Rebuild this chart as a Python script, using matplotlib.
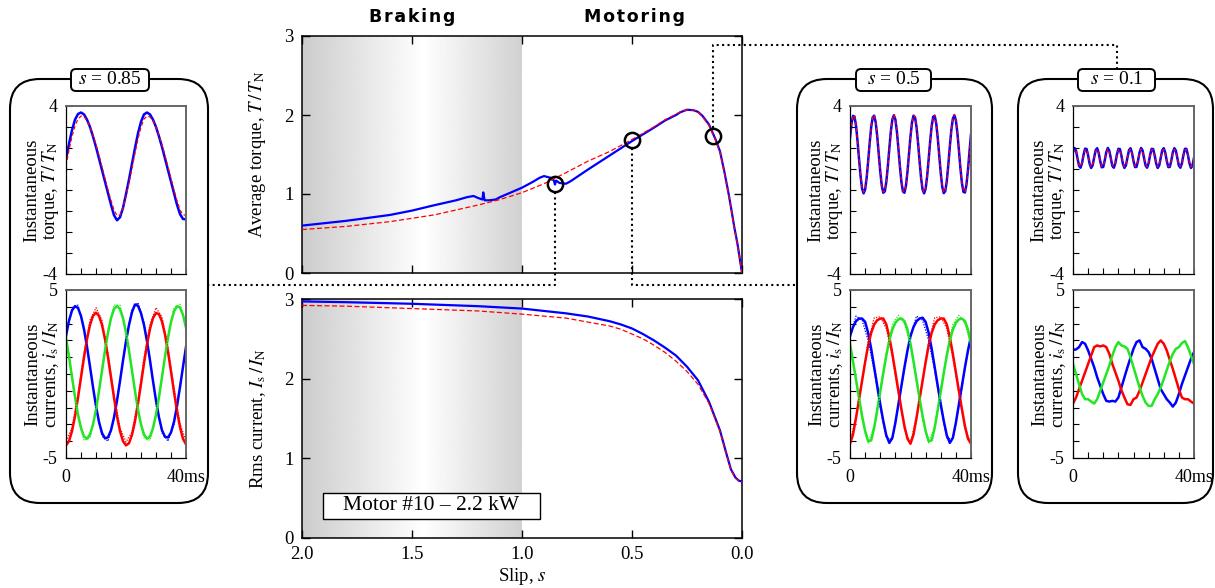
import numpy as np
import matplotlib
matplotlib.use('Agg')
import matplotlib.pyplot as plt
from matplotlib.patches import FancyBboxPatch, Rectangle
from matplotlib.lines import Line2D

plt.rcParams['font.family'] = ['Liberation Serif', 'DejaVu Serif']
plt.rcParams['mathtext.fontset'] = 'stix'
plt.rcParams['font.size'] = 13

# ---- average torque vs slip (blue = measured, red dashed = model) ----
TQ_S_MEAS = [2.0, 1.8, 1.6, 1.5, 1.4, 1.3, 1.25, 1.22, 1.2, 1.18, 1.176, 1.17, 1.15, 1.12, 1.1,
             1.0, 0.95, 0.92, 0.9, 0.87, 0.855, 0.85, 0.845, 0.83, 0.8, 0.78, 0.7, 0.6, 0.5, 0.4,
             0.35, 0.3, 0.28, 0.25, 0.22, 0.2, 0.18, 0.15, 0.12, 0.1, 0.08, 0.06, 0.05, 0.035, 0.02,
             0.01, 0.0]
TQ_MEAS = [0.60, 0.66, 0.735, 0.79, 0.857, 0.92, 0.96, 0.975, 0.95, 0.93, 1.02, 0.92, 0.92, 0.93, 0.96,
           1.08, 1.155, 1.205, 1.227, 1.205, 1.17, 1.12, 1.17, 1.14, 1.13, 1.16, 1.31, 1.49, 1.67, 1.84,
           1.93, 2.0, 2.035, 2.067, 2.06, 2.04, 1.99, 1.88, 1.69, 1.54, 1.28, 0.99, 0.83, 0.58, 0.36,
           0.18, 0.0]
TQ_S_SIM = [2.0, 1.8, 1.6, 1.4, 1.2, 1.1, 1.0, 0.9, 0.8, 0.7, 0.6, 0.5, 0.4, 0.35, 0.3, 0.28, 0.25,
            0.22, 0.2, 0.18, 0.15, 0.12, 0.1, 0.08, 0.06, 0.05, 0.035, 0.02, 0.01, 0.0]
TQ_SIM = [0.55, 0.59, 0.65, 0.735, 0.86, 0.93, 1.017, 1.13, 1.27, 1.416, 1.54, 1.69, 1.85, 1.94, 2.01,
          2.04, 2.067, 2.06, 2.04, 1.98, 1.87, 1.68, 1.53, 1.27, 0.98, 0.82, 0.57, 0.35, 0.17, 0.0]

# ---- rms current vs slip ----
IS_S_MEAS = [2.0, 1.8, 1.5, 1.2, 1.0, 0.9, 0.8, 0.7, 0.6, 0.55, 0.5, 0.45, 0.4, 0.35, 0.3, 0.25, 0.2,
             0.15, 0.1, 0.07, 0.05, 0.03, 0.015, 0.0]
IS_MEAS = [2.97, 2.96, 2.94, 2.91, 2.88, 2.85, 2.82, 2.78, 2.72, 2.68, 2.63, 2.56, 2.48, 2.39, 2.29,
           2.15, 1.98, 1.71, 1.35, 1.05, 0.86, 0.76, 0.72, 0.71]
IS_S_SIM = [2.0, 1.8, 1.5, 1.2, 1.0, 0.8, 0.6, 0.55, 0.5, 0.45, 0.4, 0.35, 0.3, 0.25, 0.2, 0.15, 0.1,
            0.07, 0.05, 0.03, 0.015, 0.0]
IS_SIM = [2.92, 2.91, 2.88, 2.85, 2.81, 2.76, 2.66, 2.62, 2.56, 2.5, 2.42, 2.33, 2.22, 2.09, 1.93,
          1.69, 1.34, 1.04, 0.85, 0.75, 0.72, 0.71]

# selected operating points (circles)
SEL_S = [0.85, 0.5, 0.13]
SEL_T = [1.13, 1.68, 1.73]

# ---- instantaneous torque, 0..40 ms ----
TQ085_MEAS = [1.46, 2.2, 2.85, 3.35, 3.62, 3.69, 3.6, 3.35, 3.0, 2.55, 2.05, 1.5, 0.95, 0.4, -0.15,
              -0.7, -1.2, -1.44, -1.3, -0.85, -0.2, 0.5, 1.25, 2.0, 2.7, 3.25, 3.6, 3.69, 3.6, 3.35,
              3.0, 2.55, 2.05, 1.5, 0.95, 0.4, -0.15, -0.7, -1.15, -1.38, -1.4]
TQ085_SIM = [1.14, 1.9, 2.55, 3.05, 3.38, 3.52, 3.5, 3.3, 3.0, 2.6, 2.15, 1.65, 1.1, 0.55, 0.0,
             -0.5, -0.95, -1.22, -1.2, -0.85, -0.3, 0.35, 1.05, 1.75, 2.45, 3.0, 3.38, 3.52, 3.48, 3.3,
             3.0, 2.6, 2.15, 1.65, 1.1, 0.55, 0.0, -0.5, -0.95, -1.18, -1.2]
TQ05_MEAS = [2.49, 3.17, 3.53, 3.49, 3.05, 2.32, 1.46, 0.65, 0.06, -0.16,
             0.02, 0.57, 1.37, 2.24, 2.99, 3.46, 3.54, 3.22, 2.56, 1.72,
             0.88, 0.21, -0.13, -0.07, 0.38, 1.12, 1.98, 2.79, 3.36, 3.56,
             3.36, 2.79, 1.98, 1.12, 0.38, -0.07, -0.13, 0.21, 0.87, 1.72,
             2.56, 3.22, 3.54, 3.46, 2.99, 2.24, 1.37, 0.57, 0.02, -0.16,
             0.06, 0.65, 1.46, 2.32, 3.05, 3.49, 3.53, 3.17, 2.49, 1.64,
             0.80, 0.15, -0.15, -0.05, 0.43, 1.20, 2.07, 2.86, 3.39, 3.56,
             3.32, 2.72, 1.90, 1.04, 0.33, -0.09, -0.12, 0.26, 0.96, 1.82, 2.64]
TQ05_SIM = [2.45, 3.15, 3.55, 3.55, 3.1, 2.35, 1.47, 0.68, 0.1, -0.1,
            0.05, 0.58, 1.36, 2.22, 2.98, 3.47, 3.58, 3.27, 2.6, 1.75,
            0.9, 0.24, -0.09, -0.04, 0.38, 1.1, 1.95, 2.76, 3.36, 3.6,
            3.4, 2.83, 2.02, 1.15, 0.42, -0.04, -0.1, 0.22, 0.86, 1.7,
            2.53, 3.2, 3.56, 3.5, 3.03, 2.28, 1.4, 0.6, 0.06, -0.12,
            0.07, 0.64, 1.44, 2.3, 3.04, 3.5, 3.57, 3.2, 2.52, 1.66,
            0.83, 0.18, -0.11, -0.03, 0.43, 1.18, 2.05, 2.84, 3.39, 3.6,
            3.37, 2.76, 1.93, 1.07, 0.36, -0.06, -0.09, 0.27, 0.95, 1.8, 2.6]
TQ01_MEAS = [1.80, 2.00, 1.87, 1.50, 1.15, 1.06, 1.29, 1.68, 1.97, 1.95,
             1.64, 1.25, 1.05, 1.18, 1.55, 1.90, 1.99, 1.76, 1.37, 1.08,
             1.10, 1.41, 1.80, 2.00, 1.87, 1.51, 1.15, 1.06, 1.28, 1.68,
             1.96, 1.95, 1.64, 1.25, 1.05, 1.18, 1.54, 1.89, 1.99, 1.77,
             1.38, 1.09, 1.10, 1.40, 1.79, 2.00, 1.88, 1.51, 1.16, 1.06,
             1.28, 1.67, 1.96, 1.95, 1.65, 1.26, 1.05, 1.17, 1.53, 1.89,
             1.99, 1.78, 1.38, 1.09, 1.10, 1.40, 1.79, 1.99, 1.88, 1.52,
             1.16, 1.06, 1.27, 1.66, 1.96, 1.96, 1.66, 1.27, 1.05, 1.17, 1.53]
TQ01_SIM = [1.77, 1.95, 1.84, 1.50, 1.19, 1.11, 1.31, 1.66, 1.93, 1.91,
            1.63, 1.28, 1.10, 1.21, 1.55, 1.86, 1.94, 1.74, 1.39, 1.12,
            1.14, 1.42, 1.77, 1.95, 1.84, 1.51, 1.19, 1.11, 1.30, 1.66,
            1.92, 1.91, 1.63, 1.28, 1.10, 1.21, 1.54, 1.85, 1.94, 1.75,
            1.39, 1.13, 1.14, 1.41, 1.76, 1.95, 1.85, 1.51, 1.19, 1.11,
            1.30, 1.65, 1.92, 1.91, 1.64, 1.29, 1.10, 1.20, 1.53, 1.85,
            1.94, 1.75, 1.39, 1.13, 1.14, 1.41, 1.76, 1.94, 1.85, 1.52,
            1.19, 1.11, 1.30, 1.65, 1.92, 1.92, 1.65, 1.30, 1.10, 1.20, 1.53]

# ---- instantaneous phase currents (a=blue, b=red, c=green), 1 ms steps ----
IA085 = [2.27, 3.17, 3.78, 4.04, 3.93, 3.45, 2.66, 1.62, 0.44, -0.78, -1.91, -2.85, -3.51, -3.83,
         -3.77, -3.35, -2.59, -1.59, -0.42, 0.80, 1.95, 2.92, 3.68, 4.14, 4.06, 3.62, 2.92, 1.95, 0.81,
         -0.42, -1.58, -2.59, -3.35, -3.74, -3.78, -3.48, -2.85, -1.91, -0.78, 0.43, 1.61]
IB085 = [-4.25, -4.0, -3.40, -2.52, -1.41, -0.21, 0.99, 2.07, 2.92, 3.46, 3.65, 3.46, 2.92, 2.07,
         0.99, -0.21, -1.41, -2.52, -3.40, -4.0, -4.25, -4.12, -3.62, -2.81, -1.77, -0.58, 0.64, 1.76,
         2.69, 3.33, 3.63, 3.56, 3.12, 2.35, 1.32, 0.15, -1.07, -2.20, -3.16, -3.86, -4.19]
IC085 = [2.16, 1.04, -0.18, -1.37, -2.41, -3.22, -3.72, -3.85, -3.60, -3.00, -2.12, -1.01, 0.19,
         1.39, 2.47, 3.32, 3.86, 4.05, 3.86, 3.32, 2.47, 1.39, 0.19, -1.01, -2.12, -3.00, -3.60, -3.85,
         -3.72, -3.22, -2.41, -1.37, -0.18, 1.04, 2.16, 3.09, 3.73, 4.03, 3.96, 3.52, 2.75]
IA05 = [2.25, 2.8, 3.15, 3.3, 3.3, 3.1, 2.45, 1.5, 0.4, -0.7, -1.8, -2.8, -3.65, -4.1, -3.8, -2.9,
        -1.8, -0.7, 0.4, 1.4, 2.25, 2.8, 3.15, 3.3, 3.35, 3.1, 2.45, 1.5, 0.4, -0.7, -1.8, -2.8, -3.65,
        -4.1, -3.8, -2.9, -1.8, -0.7, 0.4, 1.4, 2.25]
IB05 = [-4.15, -3.6, -2.6, -1.5, -0.4, 0.7, 1.7, 2.45, 2.95, 3.2, 3.3, 3.3, 2.95, 2.2, 1.2, 0.1,
        -1.0, -2.1, -3.1, -3.85, -4.15, -3.6, -2.6, -1.5, -0.4, 0.7, 1.7, 2.45, 2.95, 3.2, 3.3, 3.3,
        2.95, 2.2, 1.2, 0.1, -1.0, -2.1, -3.1, -3.85, -4.15]
IC05 = [1.8, 0.75, -0.35, -1.45, -2.5, -3.4, -4.0, -3.95, -3.2, -2.15, -1.05, 0.05, 1.1, 2.0, 2.65,
        3.05, 3.25, 3.3, 3.15, 2.65, 1.8, 0.75, -0.35, -1.45, -2.5, -3.4, -4.0, -3.95, -3.2, -2.15,
        -1.05, 0.05, 1.1, 2.0, 2.65, 3.05, 3.25, 3.3, 3.15, 2.65, 1.8]
IA01 = [1.44, 1.46, 1.6, 1.9, 1.8, 1.4, 0.9, 0.4, -0.2, -0.7, -1.2, -1.6, -1.64, -1.6, -1.64, -1.4,
        -0.8, -0.2, 0.4, 0.96, 1.5, 1.9, 2.0, 1.6, 1.5, 1.3, 0.9, 0.3, -0.3, -0.9, -1.2, -1.5, -1.7,
        -1.94, -1.7, -1.2, -0.6, -0.1, 0.4, 0.9, 1.3]
IB01 = [-1.76, -1.4, -0.9, -0.4, 0.1, 0.6, 1.1, 1.6, 1.7, 1.64, 1.7, 1.6, 1.2, 0.6, 0.1, -0.4,
        -0.96, -1.4, -1.8, -1.84, -1.5, -1.4, -1.0, -0.5, 0.0, 0.5, 1.0, 1.4, 1.8, 2.0, 1.8, 1.4, 0.84,
        0.3, -0.3, -0.9, -1.4, -1.5, -1.5, -1.64, -1.76]
IC01 = [0.6, 0.0, -0.6, -1.2, -1.5, -1.5, -1.64, -1.76, -1.5, -1.0, -0.5, 0.0, 0.5, 1.1, 1.6, 1.9,
        1.7, 1.64, 1.5, 1.0, 0.4, -0.2, -0.8, -1.3, -1.7, -1.9, -1.9, -1.5, -1.2, -0.8, -0.3, 0.24,
        0.76, 1.2, 1.5, 1.6, 1.84, 1.96, 1.6, 1.1, 0.6]
# model currents (dotted), 2 ms steps
IA085_SIM = [2.35, 3.95, 4.1, 2.75, 0.45, -2.0, -3.7, -4.0, -2.7, -0.45, 2.0, 3.85, 4.25, 3.05, 0.85,
             -1.65, -3.5, -4.0, -3.0, -0.8, 1.65]
IB085_SIM = [-4.0, -3.2, -1.2, 1.25, 3.2, 3.95, 3.2, 1.25, -1.2, -3.2, -4.05, -3.45, -1.55, 0.95,
             2.95, 3.95, 3.4, 1.6, -0.8, -2.95, -4.0]
IC085_SIM = [2.25, -0.2, -2.55, -3.95, -3.8, -2.25, 0.2, 2.6, 4.1, 4.1, 2.6, 0.2, -2.25, -3.8, -3.95,
             -2.55, -0.2, 2.25, 3.95, 4.15, 2.9]
IA05_SIM = [2.3, 3.45, 3.2, 2.0, 0.2, -2.0, -3.8, -3.9, -1.9, 0.3, 2.3, 3.45, 3.2, 2.0, 0.2, -2.0,
            -3.8, -3.9, -1.9, 0.3, 2.3]
IB05_SIM = [-4.1, -2.5, -0.3, 1.9, 3.35, 3.4, 2.7, 1.0, -1.2, -3.3, -4.1, -2.5, -0.3, 1.9, 3.35, 3.4,
            2.7, 1.0, -1.2, -3.3, -4.1]
IC05_SIM = [1.7, -0.5, -2.7, -4.1, -3.1, -0.9, 1.3, 2.95, 3.5, 3.0, 1.7, -0.5, -2.7, -4.1, -3.1, -0.9,
            1.3, 2.95, 3.5, 3.0, 1.7]

BLUE, RED, GREEN = '#0000ff', '#ff0000', '#22e622'
W, H = 1215, 588
fig = plt.figure(figsize=(W / 100, H / 100), dpi=100)


def rect(x0, y0, x1, y1):
    # pixel box (origin top-left) -> figure fraction
    return [x0 / W, 1 - y1 / H, (x1 - x0) / W, (y1 - y0) / H]


def tgrid(v):
    return np.linspace(0, 40, len(v))


# ================= main axes =================
axT = fig.add_axes(rect(302, 36, 742, 273))
axI = fig.add_axes(rect(302, 299, 742, 538))
sg = np.linspace(1.0, 2.0, 300)
shade = np.interp(sg, [1.0, 1.45, 2.0], [0.82, 1.0, 0.80])
for ax in (axT, axI):
    ax.imshow(shade[::-1][None, :], cmap='gray', vmin=0, vmax=1, extent=(2.0, 1.0, 0, 3),
              aspect='auto', interpolation='bilinear', zorder=0)
    ax.set_xlim(2.0, 0.0); ax.set_ylim(0, 3)
    ax.set_xticks([2.0, 1.5, 1.0, 0.5, 0.0]); ax.set_yticks([0, 1, 2, 3])
    ax.tick_params(direction='in', top=True, right=True, length=6, width=1, labelsize=13.5, pad=6)
    for sp in ax.spines.values():
        sp.set_linewidth(1.1)
    ax.yaxis.set_label_coords(-0.078, 0.5)
axT.tick_params(labelbottom=False)
axI.set_xticklabels(['2.0', '1.5', '1.0', '0.5', '0.0'])

axT.plot(TQ_S_MEAS, TQ_MEAS, color=BLUE, lw=1.6, zorder=3)
axT.plot(TQ_S_SIM, TQ_SIM, color=RED, lw=0.9, ls=(0, (4, 2)), zorder=4)
axT.plot(SEL_S, SEL_T, 'o', ms=11, mfc='none', mec='k', mew=1.8, zorder=6, clip_on=False)
axT.set_ylabel(r'Average torque, $T\,/\,T_{\mathrm{N}}$', fontsize=13.5)

axI.plot(IS_S_MEAS, IS_MEAS, color=BLUE, lw=1.6, zorder=3)
axI.plot(IS_S_SIM, IS_SIM, color=RED, lw=0.9, ls=(0, (4, 2)), zorder=4)
axI.set_ylabel(r'Rms current, $I_{\mathrm{s}}\,/\,I_{\mathrm{N}}$', fontsize=13.5)
axI.set_xlabel(r'Slip, $s$', fontsize=13.5, labelpad=2)
axI.add_patch(Rectangle((0.92, 0.24), 0.985, 0.33, fc='white', ec='black', lw=1.0, zorder=5))
axI.text(1.412, 0.405, 'Motor #10 \u2013 2.2 kW', ha='center', va='center', fontsize=15.5, zorder=6)

for txt, xc in (('B\u200ar\u200aa\u200ak\u200ai\u200an\u200ag', 412),
                ('M\u200ao\u200at\u200ao\u200ar\u200ai\u200an\u200ag', 634)):
    fig.text(xc / W, 1 - 17 / H, txt, ha='center', va='center', fontsize=12.5,
             fontweight='heavy', family=['DejaVu Sans'])

# ================= waveform panels =================
PANELS = [
    dict(box=(10, 208), ax=(66, 186), lab=(71, 149), s='0.85',
         tq=(TQ085_MEAS, TQ085_SIM), cur=(IA085, IB085, IC085), sim=(IA085_SIM, IB085_SIM, IC085_SIM)),
    dict(box=(797, 992), ax=(850, 971), lab=(856, 931), s='0.5',
         tq=(TQ05_MEAS, TQ05_SIM), cur=(IA05, IB05, IC05), sim=(IA05_SIM, IB05_SIM, IC05_SIM)),
    dict(box=(1018, 1213), ax=(1073, 1194), lab=(1078, 1155), s='0.1',
         tq=(TQ01_MEAS, TQ01_SIM), cur=(IA01, IB01, IC01), sim=None),
]
BOX_Y = (79, 503)
LAB_Y = (69, 91)


def style_panel(ax, lim):
    ax.set_xlim(0, 40); ax.set_ylim(-lim, lim)
    ax.set_xticks(range(0, 41, 5)); ax.set_yticks(range(-lim, lim + 1))
    ax.set_yticklabels(['-%d' % lim] + [''] * (2 * lim - 1) + ['%d' % lim])
    ax.tick_params(direction='in', length=4, width=0.8, labelsize=13, pad=6)
    ax.tick_params(axis='x', pad=8)
    for k in ('left', 'bottom'):
        ax.spines[k].set_linewidth(0.9)
    for k in ('top', 'right'):
        ax.spines[k].set_color('0.4'); ax.spines[k].set_linewidth(1.4)
    ax.yaxis.set_label_coords(-0.04, 0.5)


for p in PANELS:
    bx0, bx1 = p['box']
    fig.add_artist(FancyBboxPatch((bx0 / 100, (H - BOX_Y[1]) / 100), (bx1 - bx0) / 100,
                                  (BOX_Y[1] - BOX_Y[0]) / 100,
                                  boxstyle='round,pad=0,rounding_size=0.3', transform=fig.dpi_scale_trans,
                                  fc='white', ec='black', lw=1.5, zorder=-1))
    lx0, lx1 = p['lab']
    fig.add_artist(FancyBboxPatch((lx0 / 100, (H - LAB_Y[1]) / 100), (lx1 - lx0) / 100,
                                  (LAB_Y[1] - LAB_Y[0]) / 100,
                                  boxstyle='round,pad=0,rounding_size=0.05', transform=fig.dpi_scale_trans,
                                  fc='white', ec='black', lw=1.4, zorder=1))
    fig.text((lx0 + lx1) / 2 / W, 1 - (LAB_Y[0] + LAB_Y[1]) / 2 / H, r'$s$ = ' + p['s'],
             ha='center', va='center', fontsize=14, zorder=2)

    ax0, ax1 = p['ax']
    a1 = fig.add_axes(rect(ax0, 106, ax1, 274))
    meas, sim = p['tq']
    a1.plot(tgrid(meas), meas, color=BLUE, lw=1.8)
    a1.plot(tgrid(sim), sim, color=RED, lw=0.9, ls=(0, (3, 2)))
    style_panel(a1, 4)
    a1.tick_params(labelbottom=False)
    a1.set_ylabel('Instantaneous\n' + r'torque, $T\,/\,T_{\mathrm{N}}$', fontsize=13.5, linespacing=1.0)

    a2 = fig.add_axes(rect(ax0, 290, ax1, 458))
    for v, c in zip(p['cur'], (BLUE, RED, GREEN)):
        a2.plot(tgrid(v), v, color=c, lw=1.8)
    if p['sim'] is not None:
        for v, c in zip(p['sim'], (BLUE, RED, GREEN)):
            a2.plot(tgrid(v), v, color=c, lw=0.9, ls=(0, (1, 1.2)))
    style_panel(a2, 5)
    a2.set_xticklabels(['0'] + [''] * 7 + ['40ms'])
    a2.set_ylabel('Instantaneous\n' + r'currents, $i_{\mathrm{s}}\,/\,I_{\mathrm{N}}$', fontsize=13.5,
                  linespacing=1.0)


# ================= dotted connectors =================
def to_px(ax, x, y):
    d = ax.transData.transform((x, y))
    return d[0], H - d[1]


def connector(pts):
    xs = [x / W for x, _ in pts]; ys = [1 - y / H for _, y in pts]
    fig.add_artist(Line2D(xs, ys, transform=fig.transFigure, color='k', lw=1.5,
                          ls=(0, (1, 1.6)), zorder=3))


R = 8
c1 = to_px(axT, SEL_S[0], SEL_T[0])
c2 = to_px(axT, SEL_S[1], SEL_T[1])
c3 = to_px(axT, SEL_S[2], SEL_T[2])
connector([(c1[0], c1[1] + R), (c1[0], 285), (PANELS[0]['box'][1], 285)])
connector([(c2[0], c2[1] + R), (c2[0], 285), (PANELS[1]['box'][0], 285)])
xk = (PANELS[2]['lab'][0] + PANELS[2]['lab'][1]) / 2
connector([(c3[0], c3[1] - R), (c3[0], 45), (xk, 45), (xk, LAB_Y[0])])

fig.savefig('out.png', dpi=100)
